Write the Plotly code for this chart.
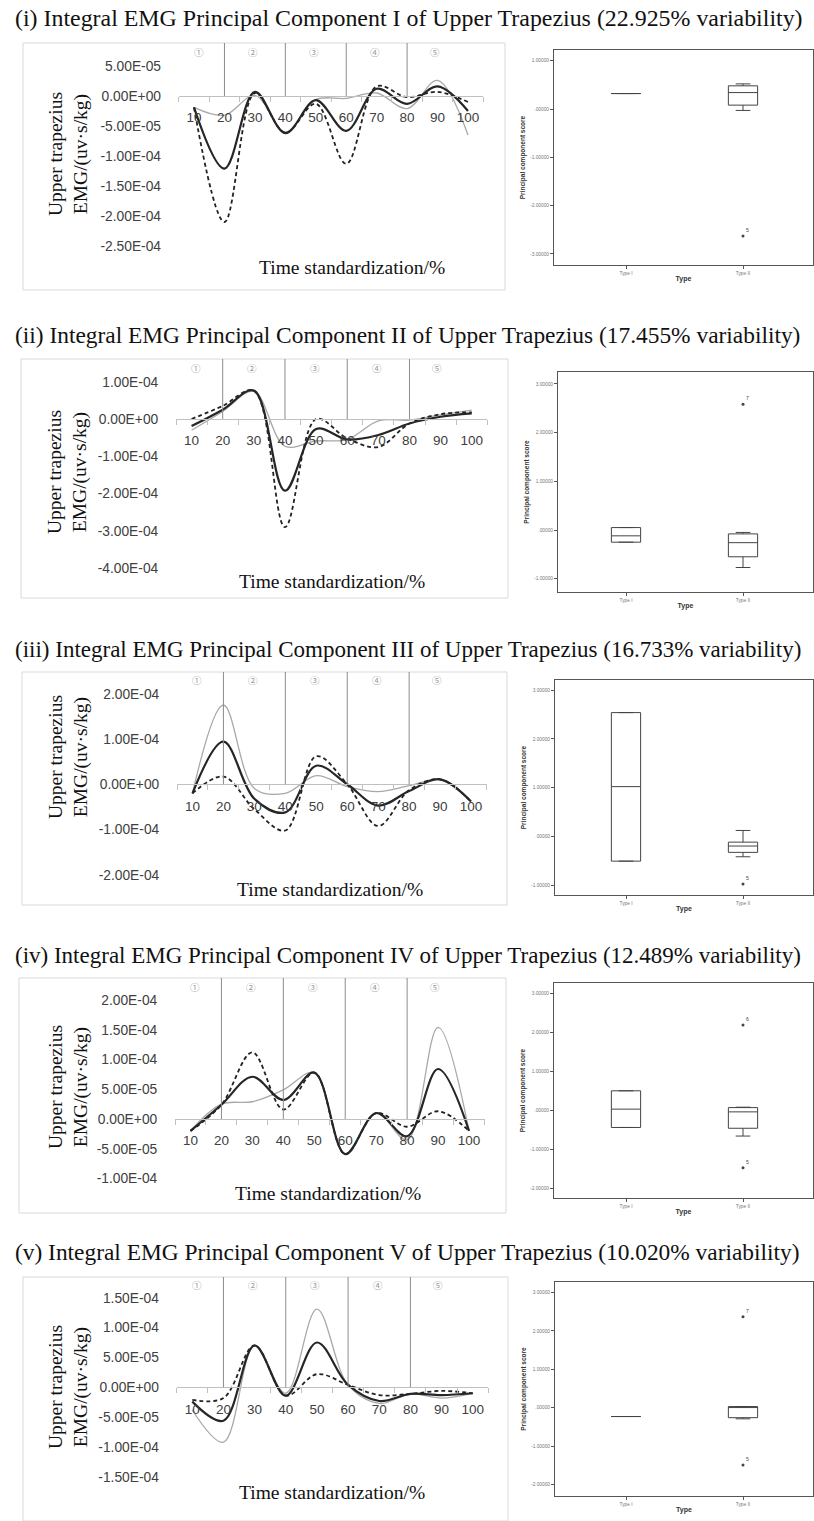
import plotly.graph_objects as go

W, H = 814, 1521


def px(x):
    return x / W


def py(y):
    return 1 - y / H


# ---------------- data ----------------
time_pct = [10, 20, 30, 40, 50, 60, 70, 80, 90, 100]
x_tick_text = [str(v) for v in time_pct]
phase_bounds = [20, 40, 60, 80]
phase_labels = ["①", "②", "③", "④", "⑤"]
phase_label_x = [11.5, 29.5, 49.5, 69.5, 89]

titles = [
    "(i) Integral EMG Principal Component I of Upper Trapezius (22.925% variability)",
    "(ii) Integral EMG Principal Component II of Upper Trapezius (17.455% variability)",
    "(iii) Integral EMG Principal Component III of Upper Trapezius (16.733% variability)",
    "(iv) Integral EMG Principal Component IV of Upper Trapezius (12.489% variability)",
    "(v) Integral EMG Principal Component V of Upper Trapezius (10.020% variability)",
]
y_title = "Upper trapezius<br>EMG/(uv·s/kg)"
x_title = "Time standardization/%"

pc1_solid = [-1.9e-5, -12.1e-5, 0.7e-5, -6.2e-5, -0.7e-5, -5.8e-5, 1.2e-5, -1.3e-5, 1.6e-5, -2.5e-5]
pc1_dash = [-1.9e-5, -21.0e-5, 0.5e-5, -6.1e-5, -1.3e-5, -11.3e-5, 1.6e-5, -0.2e-5, 0.7e-5, -1.0e-5]
pc1_gray = [-1.9e-5, -3.2e-5, 0.1e-5, -6.0e-5, -0.6e-5, -0.4e-5, 0.5e-5, -2.1e-5, 2.6e-5, -6.5e-5]

pc2_solid = [-1.9e-5, 2.5e-5, 7.6e-5, -19.2e-5, -2.7e-5, -5.5e-5, -4.3e-5, -1.2e-5, 0.6e-5, 1.5e-5]
pc2_dash = [0.0, 3.5e-5, 7.6e-5, -29.0e-5, 0.0, -5.2e-5, -7.5e-5, -1.2e-5, 1.3e-5, 1.8e-5]
pc2_gray = [-3.0e-5, 2.0e-5, 7.4e-5, -7.3e-5, -5.9e-5, -5.5e-5, -0.5e-5, -0.3e-5, 1.1e-5, 2.4e-5]

pc3_solid = [-2.0e-5, 9.4e-5, -3.2e-5, -6.2e-5, 4.1e-5, 0.0, -4.7e-5, -1.5e-5, 1.1e-5, -3.8e-5]
pc3_dash = [-2.0e-5, 1.7e-5, -5.5e-5, -10.2e-5, 6.2e-5, 0.0, -9.2e-5, -1.3e-5, 1.1e-5, -3.8e-5]
pc3_gray = [-2.0e-5, 17.5e-5, -0.9e-5, -2.0e-5, 1.9e-5, -0.5e-5, -1.6e-5, -0.3e-5, 1.0e-5, -3.8e-5]

pc4_solid = [-2.0e-5, 2.4e-5, 7.1e-5, 3.2e-5, 7.8e-5, -5.9e-5, 1.0e-5, -2.9e-5, 8.4e-5, -2.0e-5]
pc4_dash = [-2.0e-5, 2.4e-5, 11.2e-5, 1.6e-5, 7.8e-5, -5.9e-5, 1.0e-5, -1.3e-5, 1.3e-5, -2.0e-5]
pc4_gray = [-2.0e-5, 2.5e-5, 2.9e-5, 4.9e-5, 7.8e-5, -5.9e-5, 1.0e-5, -3.5e-5, 15.4e-5, -2.0e-5]

pc5_solid = [-2.4e-5, -5.6e-5, 7.0e-5, -1.4e-5, 7.5e-5, 0.4e-5, -2.3e-5, -1.1e-5, -1.3e-5, -1.0e-5]
pc5_dash = [-2.1e-5, -1.8e-5, 7.0e-5, -1.4e-5, 2.2e-5, 0.4e-5, -1.3e-5, -1.1e-5, -0.6e-5, -1.0e-5]
pc5_gray = [-3.8e-5, -9.2e-5, 7.0e-5, -1.0e-5, 13.1e-5, 0.4e-5, -2.7e-5, -1.1e-5, -1.8e-5, -1.0e-5]

line_series = [
    (pc1_gray, pc1_dash, pc1_solid),
    (pc2_gray, pc2_dash, pc2_solid),
    (pc3_gray, pc3_dash, pc3_solid),
    (pc4_gray, pc4_dash, pc4_solid),
    (pc5_gray, pc5_dash, pc5_solid),
]

pc1_yticks = [5e-5, 0, -5e-5, -1e-4, -1.5e-4, -2e-4, -2.5e-4]
pc2_yticks = [1e-4, 0, -1e-4, -2e-4, -3e-4, -4e-4]
pc3_yticks = [2e-4, 1e-4, 0, -1e-4, -2e-4]
pc4_yticks = [2e-4, 1.5e-4, 1e-4, 5e-5, 0, -5e-5, -1e-4]
pc5_yticks = [1.5e-4, 1e-4, 5e-5, 0, -5e-5, -1e-4, -1.5e-4]
line_yticks = [pc1_yticks, pc2_yticks, pc3_yticks, pc4_yticks, pc5_yticks]

box_cats = ["Type I", "Type II"]
pc1_q1 = [0.32, 0.08]; pc1_med = [0.32, 0.34]; pc1_q3 = [0.32, 0.48]; pc1_lo = [0.32, -0.03]; pc1_hi = [0.32, 0.52]
pc2_q1 = [-0.25, -0.55]; pc2_med = [-0.12, -0.26]; pc2_q3 = [0.05, -0.08]; pc2_lo = [-0.25, -0.77]; pc2_hi = [0.05, -0.05]
pc3_q1 = [-0.51, -0.33]; pc3_med = [1.02, -0.20]; pc3_q3 = [2.54, -0.12]; pc3_lo = [-0.51, -0.42]; pc3_hi = [2.54, 0.12]
pc4_q1 = [-0.43, -0.45]; pc4_med = [0.04, -0.03]; pc4_q3 = [0.51, 0.08]; pc4_lo = [-0.43, -0.65]; pc4_hi = [0.51, 0.09]
pc5_q1 = [-0.23, -0.26]; pc5_med = [-0.23, 0.01]; pc5_q3 = [-0.23, 0.03]; pc5_lo = [-0.23, -0.29]; pc5_hi = [-0.23, 0.03]

pc1_out_y = [-2.63]; pc1_out_lab = ["5"]
pc2_out_y = [2.58]; pc2_out_lab = ["7"]
pc3_out_y = [-0.98]; pc3_out_lab = ["5"]
pc4_out_y = [2.20, -1.46]; pc4_out_lab = ["6", "5"]
pc5_out_y = [2.37, -1.49]; pc5_out_lab = ["7", "5"]

box_stats = [
    (pc1_q1, pc1_med, pc1_q3, pc1_lo, pc1_hi, pc1_out_y, pc1_out_lab),
    (pc2_q1, pc2_med, pc2_q3, pc2_lo, pc2_hi, pc2_out_y, pc2_out_lab),
    (pc3_q1, pc3_med, pc3_q3, pc3_lo, pc3_hi, pc3_out_y, pc3_out_lab),
    (pc4_q1, pc4_med, pc4_q3, pc4_lo, pc4_hi, pc4_out_y, pc4_out_lab),
    (pc5_q1, pc5_med, pc5_q3, pc5_lo, pc5_hi, pc5_out_y, pc5_out_lab),
]
pc1_box_ticks = [1, 0, -1, -2, -3]
pc2_box_ticks = [3, 2, 1, 0, -1]
pc3_box_ticks = [3, 2, 1, 0, -1]
pc4_box_ticks = [3, 2, 1, 0, -1, -2]
pc5_box_ticks = [3, 2, 1, 0, -1, -2]
box_ticks = [pc1_box_ticks, pc2_box_ticks, pc3_box_ticks, pc4_box_ticks, pc5_box_ticks]

# ---------------- layout geometry (pixels) ----------------
line_geo = [
    dict(frame=(23, 43, 505, 290), xd=(178.8, 483.2), zero=96.0, ppu=60.0, yd=(43, 262), ty=18, tsize=23.9,
         xt=(352, 267), yt=(68, 154), cy=52),
    dict(frame=(21, 359, 508, 598), xd=(176.0, 487.3), zero=419.0, ppu=37.3, yd=(359, 580), ty=335, tsize=23.4,
         xt=(332, 582), yt=(68, 472), cy=367.7),
    dict(frame=(22, 672, 507, 905), xd=(177.0, 486.5), zero=784.3, ppu=45.3, yd=(672, 885), ty=649, tsize=23.0,
         xt=(330, 889), yt=(68, 757), cy=680),
    dict(frame=(19, 978, 506, 1213), xd=(175.0, 484.5), zero=1119.0, ppu=59.5, yd=(978, 1190), ty=955, tsize=23.0,
         xt=(328, 1193), yt=(68, 1087), cy=986.7),
    dict(frame=(23, 1277, 508, 1521), xd=(176.7, 488.3), zero=1387.3, ppu=59.7, yd=(1277, 1490), ty=1252, tsize=23.4,
         xt=(332, 1492), yt=(68, 1387), cy=1285),
]
box_geo = [
    dict(frame=(554, 50, 813, 265), zero=109.0, ppu=48.3),
    dict(frame=(558, 372, 813, 592), zero=530.0, ppu=48.7),
    dict(frame=(555, 680, 813, 895), zero=836.3, ppu=48.7),
    dict(frame=(554, 983, 813, 1198), zero=1110.7, ppu=39.0),
    dict(frame=(555, 1282, 813, 1496), zero=1407.7, ppu=38.4),
]
TYPE1_PX = 626.0
CAT_PX = 117.0

SERIF = "Liberation Serif"
SANS = "Liberation Sans"
AX_COLOR = "#555555"

styles = [
    dict(color="#a8a8a8", width=1.3, dash="solid"),
    dict(color="#222222", width=1.8, dash="4px,3px"),
    dict(color="#262626", width=2.2, dash="solid"),
]


def spss_fmt(v):
    s = f"{v:.5f}"
    if s.startswith("0."):
        s = s[1:]
    return s


def sci_fmt(v):
    if v == 0:
        return "0.00E+00"
    s = f"{v:.2E}"
    mant, ex = s.split("E")
    sign = ex[0]
    num = int(ex[1:])
    return f"{mant}E{sign}{num:02d}"


fig = go.Figure()
layout = dict(width=W, height=H, margin=dict(l=0, r=0, t=0, b=0),
              paper_bgcolor="white", plot_bgcolor="white", showlegend=False)
shapes = []
annotations = []


def axname(kind, i):
    return kind + ("" if i == 1 else str(i))


for k in range(5):
    g = line_geo[k]
    li = 2 * k + 1
    bi = 2 * k + 2
    xr, yr = axname("x", li), axname("y", li)

    # ---- line chart ----
    ytop = (g["zero"] - g["yd"][0]) / g["ppu"] * 1e-4
    ybot = -(g["yd"][1] - g["zero"]) / g["ppu"] * 1e-4
    layout[axname("xaxis", li)] = dict(
        domain=[px(g["xd"][0]), px(g["xd"][1])], range=[5, 105],
        anchor="free", position=py(g["zero"]),
        tickmode="array", tickvals=time_pct, ticktext=x_tick_text, ticks="",
        ticklabelstandoff=9,
        minor=dict(ticks="outside", tickmode="array",
                   tickvals=[t - 5 for t in time_pct] + [time_pct[-1] + 5],
                   ticklen=5, tickcolor="#c0c0c0", tickwidth=1, showgrid=False),
        showline=True, linecolor="#c0c0c0", linewidth=1, showgrid=False, zeroline=False,
        tickfont=dict(family=SANS, size=13.5, color="#404040"), fixedrange=True)
    layout[axname("yaxis", li)] = dict(
        domain=[py(g["yd"][1]), py(g["yd"][0])], range=[ybot, ytop], anchor=xr,
        tickmode="array", tickvals=line_yticks[k], ticktext=[sci_fmt(v) for v in line_yticks[k]],
        ticks="outside", ticklen=14, tickcolor="rgba(0,0,0,0)",
        showline=False, showgrid=False, zeroline=False,
        tickfont=dict(family=SANS, size=13.8, color="#404040"), fixedrange=True)

    for ser, st in zip(line_series[k], styles):
        fig.add_trace(go.Scatter(x=time_pct, y=ser, mode="lines", xaxis=xr, yaxis=yr,
                                 line=dict(shape="spline", smoothing=1.0, color=st["color"],
                                           width=st["width"], dash=st["dash"]),
                                 hoverinfo="skip"))

    for b in phase_bounds:
        shapes.append(dict(type="line", xref=xr, yref=yr, x0=b, x1=b, y0=0, y1=ytop,
                           line=dict(color="#8c8c8c", width=1)))
    for lab, lx in zip(phase_labels, phase_label_x):
        annotations.append(dict(text=lab, x=lx, xref=xr, y=py(g["cy"]), yref="paper",
                                showarrow=False, xanchor="center", yanchor="middle",
                                font=dict(family="Noto Sans CJK SC", size=9.5, color="#9a9a9a")))
    fx0, fy0, fx1, fy1 = g["frame"]
    shapes.append(dict(type="rect", xref="paper", yref="paper", x0=px(fx0), x1=px(fx1),
                       y0=py(fy1), y1=py(fy0), line=dict(color="#d9d9d9", width=1), layer="below"))
    annotations.append(dict(text=titles[k], x=px(13), y=py(g["ty"]), xref="paper", yref="paper",
                            xanchor="left", yanchor="middle", showarrow=False,
                            font=dict(family=SERIF, size=g["tsize"], color="#111111")))
    annotations.append(dict(text=x_title, x=px(g["xt"][0]), y=py(g["xt"][1]), xref="paper", yref="paper",
                            xanchor="center", yanchor="middle", showarrow=False,
                            font=dict(family=SERIF, size=19.5, color="#111111")))
    annotations.append(dict(text=y_title, x=px(g["yt"][0]), y=py(g["yt"][1]), xref="paper", yref="paper",
                            xanchor="center", yanchor="middle", showarrow=False, textangle=-90,
                            font=dict(family=SERIF, size=19.5, color="#111111")))

    # ---- box plot ----
    bg = box_geo[k]
    bx0, by0, bx1, by1 = bg["frame"]
    xb, yb = axname("x", bi), axname("y", bi)
    btop = (bg["zero"] - by0) / bg["ppu"]
    bbot = -(by1 - bg["zero"]) / bg["ppu"]
    layout[axname("xaxis", bi)] = dict(
        domain=[px(bx0), px(bx1)],
        range=[-(TYPE1_PX - bx0) / CAT_PX, (bx1 - TYPE1_PX) / CAT_PX], anchor=yb,
        tickmode="array", tickvals=[0, 1], ticktext=box_cats, ticks="outside", ticklen=3,
        tickcolor=AX_COLOR, showline=True, mirror=True, linecolor=AX_COLOR, linewidth=1,
        showgrid=False, zeroline=False, tickfont=dict(family=SANS, size=4.8, color="#777777"),
        title=dict(text="<b>Type</b>", standoff=1, font=dict(family=SANS, size=7, color="#333333")),
        fixedrange=True)
    layout[axname("yaxis", bi)] = dict(
        domain=[py(by1), py(by0)], range=[bbot, btop], anchor=xb,
        tickmode="array", tickvals=box_ticks[k], ticktext=[spss_fmt(v) for v in box_ticks[k]],
        ticks="outside", ticklen=3, tickcolor=AX_COLOR, showline=True, mirror=True,
        linecolor=AX_COLOR, linewidth=1, showgrid=False, zeroline=False,
        tickfont=dict(family=SANS, size=4.8, color="#777777"),
        title=dict(text="<b>Principal component score</b>", standoff=3,
                   font=dict(family=SANS, size=6.5, color="#333333")),
        fixedrange=True)
    q1, med, q3, lo, hi, oy, olab = box_stats[k]
    fig.add_trace(go.Box(x=[0, 1], q1=q1, median=med, q3=q3, lowerfence=lo, upperfence=hi,
                         width=0.25, whiskerwidth=0.5, boxpoints=False, fillcolor="white",
                         line=dict(color="#444444", width=1), xaxis=xb, yaxis=yb, hoverinfo="skip"))
    fig.add_trace(go.Scatter(x=[1] * len(oy), y=oy, mode="markers+text", text=olab,
                             textposition="top right",
                             textfont=dict(family=SANS, size=5, color="#444444"),
                             marker=dict(size=3, color="#444444"), xaxis=xb, yaxis=yb,
                             hoverinfo="skip"))

layout["shapes"] = shapes
layout["annotations"] = annotations
fig.update_layout(**layout)
fig.write_html("out.html", config={"displayModeBar": False},
               post_script="document.body.style.margin='0px';document.body.style.overflow='hidden';")
